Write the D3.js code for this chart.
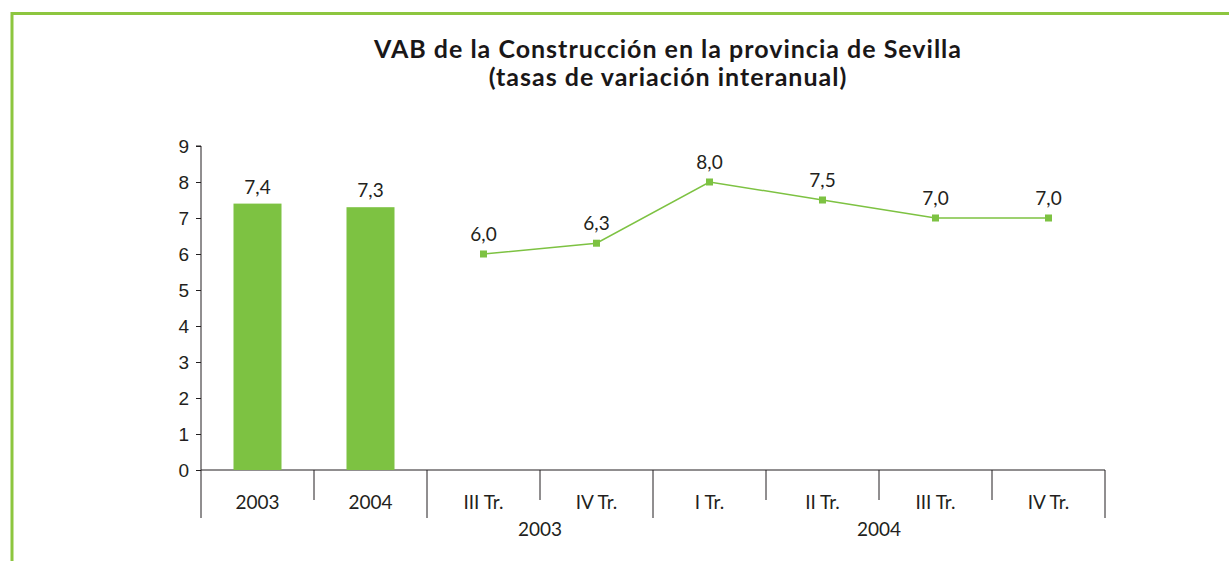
<!DOCTYPE html>
<html>
<head>
<meta charset="utf-8">
<script src="https://cdn.jsdelivr.net/npm/d3@7"></script>
<style>
  body { margin: 0; background: #fff; }
  svg { display: block; font-family: Lato, "Open Sans", sans-serif; }
</style>
</head>
<body>
<svg id="viz"></svg>
<script>
// data
const categories = ["2003", "2004", "III Tr.", "IV Tr.", "I Tr.", "II Tr.", "III Tr.", "IV Tr."];
const groups = [
  { label: "", from: 0, to: 2 },
  { label: "2003", from: 2, to: 4 },
  { label: "2004", from: 4, to: 8 }
];
const annualValues = [7.4, 7.3];
const quarterValues = [6.0, 6.3, 8.0, 7.5, 7.0, 7.0];
const yTicks = [0, 1, 2, 3, 4, 5, 6, 7, 8, 9];
const titleLines = ["VAB de la Construcción en la provincia de Sevilla", "(tasas de variación interanual)"];

width = 1229;
height = 561;

margin = { top: 146, right: 124, bottom: 91, left: 201 };

const green = "#7dc242";
const ink = "#231f20";

svg = d3.select("#viz")
  .attr("width", width)
  .attr("height", height)
  .attr("viewBox", [0, 0, width, height]);

// frame, cut off on the right and at the bottom
svg.append("path")
  .attr("d", `M12,${height + 5}V13.5H${width + 5}`)
  .attr("fill", "none")
  .attr("stroke", "#8dc63f")
  .attr("stroke-width", 3);

svg.append("text")
  .attr("x", 668)
  .attr("y", 58)
  .attr("text-anchor", "middle")
  .attr("font-weight", "bold")
  .attr("font-size", 25)
  .attr("letter-spacing", 1)
  .attr("fill", "#1a1718")
  .selectAll("tspan")
  .data(titleLines)
  .join("tspan")
  .attr("x", 668)
  .attr("dy", (d, i) => i ? 28 : 0)
  .text(d => d);

x = d3.scaleBand()
  .domain(d3.range(categories.length))
  .range([margin.left, width - margin.right]);

y = d3.scaleLinear()
  .domain([0, 9])
  .range([height - margin.bottom, margin.top]);

// y axis
const yAxis = svg.append("g")
  .attr("transform", `translate(${margin.left},0)`)
  .call(d3.axisLeft(y).tickValues(yTicks).tickSize(5).tickPadding(7).tickFormat(d3.format("d")));
yAxis.select(".domain").attr("stroke", ink).attr("d", `M-5,${y(9)}H0V${y(0) + 48}`);
yAxis.selectAll(".tick line").attr("stroke", ink);
yAxis.selectAll(".tick text").attr("font-size", 19).attr("fill", ink);

// x axis: baseline, separators, labels
const y0 = y(0);
const xg = svg.append("g");
xg.append("line")
  .attr("x1", margin.left).attr("x2", width - margin.right)
  .attr("y1", y0).attr("y2", y0)
  .attr("stroke", ink);

const bounds = d3.range(categories.length + 1);
const groupEdges = new Set(groups.flatMap(g => [g.from, g.to]));
xg.selectAll(".sep")
  .data(bounds.filter(i => i > 0))
  .join("line")
  .attr("class", "sep")
  .attr("x1", i => i < categories.length ? x(i) : x.range()[1])
  .attr("x2", i => i < categories.length ? x(i) : x.range()[1])
  .attr("y1", y0)
  .attr("y2", i => groupEdges.has(i) ? y0 + 48 : y0 + 30)
  .attr("stroke", ink);

xg.selectAll(".cat")
  .data(categories)
  .join("text")
  .attr("class", "cat")
  .attr("x", (d, i) => x(i) + x.bandwidth() / 2)
  .attr("y", y0 + 39)
  .attr("text-anchor", "middle")
  .attr("font-size", 19)
  .attr("fill", ink)
  .text(d => d);

xg.selectAll(".grp")
  .data(groups.filter(g => g.label))
  .join("text")
  .attr("class", "grp")
  .attr("x", g => (x(g.from) + x(g.to - 1) + x.bandwidth()) / 2)
  .attr("y", y0 + 66)
  .attr("text-anchor", "middle")
  .attr("font-size", 19)
  .attr("fill", ink)
  .text(g => g.label);

const fmt = v => d3.format(".1f")(v).replace(".", ",");

// annual bars
svg.append("g")
  .attr("fill", green)
  .selectAll("rect")
  .data(annualValues)
  .join("rect")
  .attr("x", (d, i) => x(i) + x.bandwidth() / 2 - 24)
  .attr("width", 48)
  .attr("y", d => y(d))
  .attr("height", d => y(0) - y(d));

svg.append("g")
  .selectAll("text")
  .data(annualValues)
  .join("text")
  .attr("x", (d, i) => x(i) + x.bandwidth() / 2)
  .attr("y", d => y(d) - 10)
  .attr("text-anchor", "middle")
  .attr("font-size", 19)
  .attr("fill", ink)
  .text(fmt);

// quarterly line
const qx = i => x(i + annualValues.length) + x.bandwidth() / 2;
svg.append("path")
  .datum(quarterValues)
  .attr("fill", "none")
  .attr("stroke", green)
  .attr("stroke-width", 1.5)
  .attr("d", d3.line().x((d, i) => qx(i)).y(d => y(d)));

svg.append("g")
  .attr("fill", green)
  .selectAll("rect")
  .data(quarterValues)
  .join("rect")
  .attr("x", (d, i) => qx(i) - 3.5)
  .attr("y", d => y(d) - 3.5)
  .attr("width", 7)
  .attr("height", 7);

svg.append("g")
  .selectAll("text")
  .data(quarterValues)
  .join("text")
  .attr("x", (d, i) => qx(i))
  .attr("y", d => y(d) - 13)
  .attr("text-anchor", "middle")
  .attr("font-size", 19)
  .attr("fill", ink)
  .text(fmt);
</script>
</body>
</html>
